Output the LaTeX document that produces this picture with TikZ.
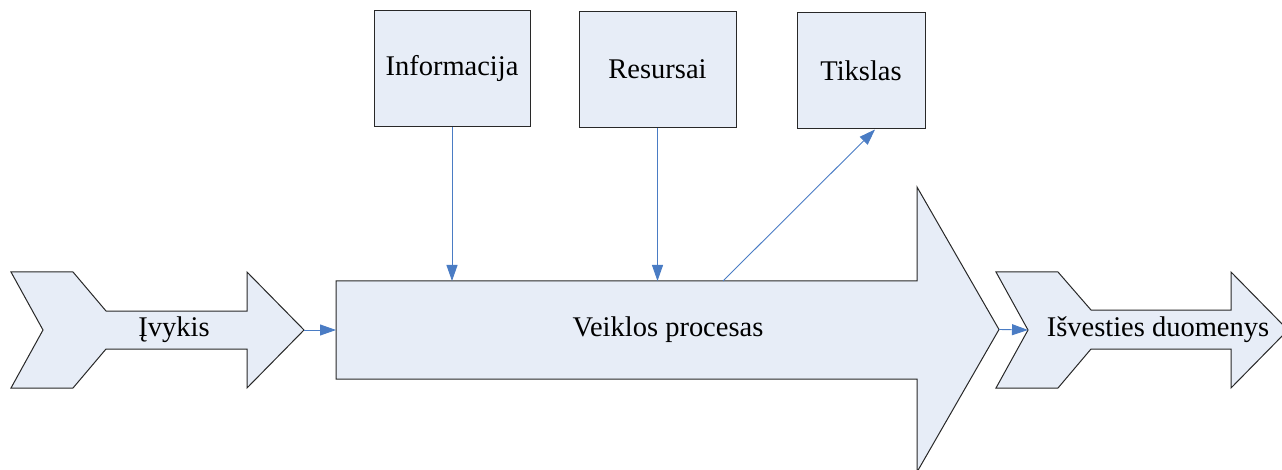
\documentclass[tikz,border=0pt]{standalone}
\usepackage{fontspec}
\setmainfont{Liberation Serif}
\usetikzlibrary{arrows.meta,calc}
\definecolor{shapefill}{RGB}{231,237,247}
\definecolor{shapeline}{RGB}{40,40,40}
\definecolor{linkblue}{RGB}{74,124,196}
\begin{document}
\begin{tikzpicture}[x=1pt,y=-1pt,
  shapebody/.style={draw=shapeline, fill=shapefill, line width=1pt, line join=miter},
  infobox/.style={shapebody, minimum width=#1, minimum height=116pt, inner sep=0pt},
  link/.style={draw=linkblue, line width=0.9pt, -{Triangle[length=16pt,width=11pt]}},
  caption/.style={font=\fontsize{28.5}{32}\selectfont, inner sep=0pt}]
\useasboundingbox (0,0) rectangle (1282,470);

% event arrow (notched tail)
\draw[shapebody] (11,272) -- (73,272) -- (106,311) -- (247,311) -- (247,272)
  -- (304,330) coordinate (evtip) -- (247,388) -- (247,349) -- (106,349)
  -- (73,388) -- (11,388) -- (43,330) -- cycle;
\node[caption] (event) at (174,330) {Įvykis};

% main process arrow
\draw[shapebody] (336,281) coordinate (proctl) -- (917,281) -- (917,187)
  -- (999,329.5) coordinate (proctip) -- (917,472) -- (917,379) -- (336,379) -- cycle;
\coordinate (procin) at (336,330);
\node[caption] (proc) at (668,330) {Veiklos procesas};

% output arrow (notched tail, head runs past the edge)
\draw[shapebody] (996,272) -- (1058,272) -- (1091,310) -- (1231,310) -- (1231,272)
  -- (1288,330) -- (1231,388) -- (1231,349) -- (1091,349) -- (1058,388)
  -- (996,388) -- (1028,330) coordinate (outnotch) -- cycle;
\node[caption] (out) at (1158,330) {Išvesties duomenys};

% boxes above the process
\node[infobox=156pt, caption] (info) at (452,69) {Informacija};
\node[infobox=157pt, caption] (res) at (657.5,69.5) {Resursai};
\node[infobox=128pt, caption] (goal) at (861,71) {Tikslas};

% connectors
\coordinate (goalstart) at (723,281);
\draw[link] (evtip) -- (procin);
\draw[link] (info.south) -- (info.south |- proctl);
\draw[link] (res.south) -- (res.south |- proctl);
\draw[link] (goalstart) -- ($(goal.south)+(14,0)$);
\draw[link] (proctip) -- (outnotch);
\end{tikzpicture}
\end{document}
